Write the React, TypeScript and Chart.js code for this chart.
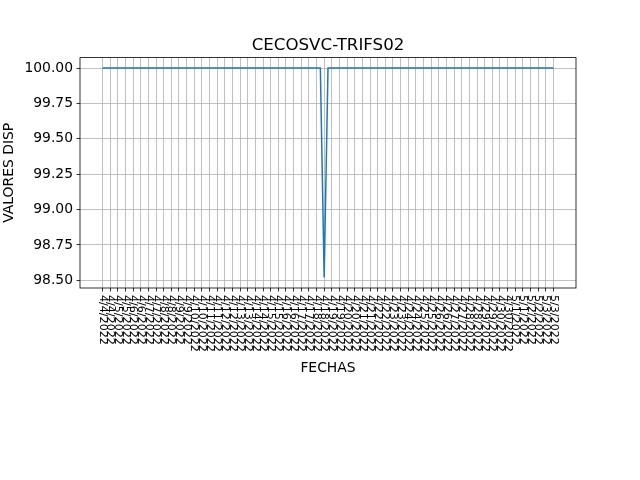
import React, { useEffect, useRef } from "react";
import { Chart, registerables } from "chart.js";

Chart.register(...registerables);

const chartTitle = "CECOSVC-TRIFS02";
const xTitle = "FECHAS";
const yTitle = "VALORES DISP";

const tickLabels: string[] = [
  "4/4/2022", "4/4/2022", "4/5/2022", "4/5/2022", "4/6/2022", "4/6/2022",
  "4/7/2022", "4/7/2022", "4/8/2022", "4/8/2022", "4/9/2022", "4/9/2022",
  "4/10/2022", "4/10/2022", "4/11/2022", "4/11/2022", "4/12/2022", "4/12/2022",
  "4/13/2022", "4/13/2022", "4/14/2022", "4/14/2022", "4/15/2022", "4/15/2022",
  "4/16/2022", "4/16/2022", "4/17/2022", "4/17/2022", "4/18/2022", "4/18/2022",
  "4/19/2022", "4/19/2022", "4/20/2022", "4/20/2022", "4/21/2022", "4/21/2022",
  "4/22/2022", "4/22/2022", "4/23/2022", "4/23/2022", "4/24/2022", "4/24/2022",
  "4/25/2022", "4/25/2022", "4/26/2022", "4/26/2022", "4/27/2022", "4/27/2022",
  "4/28/2022", "4/28/2022", "4/29/2022", "4/29/2022", "4/30/2022", "4/30/2022",
  "5/1/2022", "5/1/2022", "5/2/2022", "5/2/2022", "5/3/2022", "5/3/2022",
];

// samples taken twice per tick interval (half-tick spacing)
const dispValues: number[] = [
  100, 100, 100, 100, 100, 100, 100, 100, 100, 100,
  100, 100, 100, 100, 100, 100, 100, 100, 100, 100,
  100, 100, 100, 100, 100, 100, 100, 100, 100, 100,
  100, 100, 100, 100, 100, 100, 100, 100, 100, 100,
  100, 100, 100, 100, 100, 100, 100, 100, 100, 100,
  100, 100, 100, 100, 100, 100, 100, 100, 98.52, 100,
  100, 100, 100, 100, 100, 100, 100, 100, 100, 100,
  100, 100, 100, 100, 100, 100, 100, 100, 100, 100,
  100, 100, 100, 100, 100, 100, 100, 100, 100, 100,
  100, 100, 100, 100, 100, 100, 100, 100, 100, 100,
  100, 100, 100, 100, 100, 100, 100, 100, 100, 100,
  100, 100, 100, 100, 100, 100, 100, 100, 100,
];

const yTickValues: number[] = [98.5, 98.75, 99.0, 99.25, 99.5, 99.75, 100.0];

const FONT = "'DejaVu Sans', sans-serif";

export default function App() {
  const ref = useRef<HTMLCanvasElement | null>(null);

  useEffect(() => {
    const canvas = ref.current;
    if (!canvas) return;
    const nTicks = tickLabels.length;
    const xPad = (nTicks - 1) * 0.05;
    const yMin = Math.min(...dispValues);
    const yMax = Math.max(...dispValues);
    const yPad = (yMax - yMin) * 0.05;

    const decor = {
      id: "decor",
      afterDraw(chart: any) {
        const ctx = chart.ctx;
        const a = chart.chartArea;
        const xs = chart.scales.x;
        ctx.save();
        ctx.strokeStyle = "#000";
        ctx.lineWidth = 0.8;
        ctx.strokeRect(a.left, a.top, a.right - a.left, a.bottom - a.top);
        ctx.fillStyle = "#000";
        ctx.font = `11.1px ${FONT}`;
        ctx.textAlign = "left";
        ctx.textBaseline = "middle";
        tickLabels.forEach((lab, i) => {
          const px = xs.getPixelForValue(i);
          ctx.save();
          ctx.translate(px, a.bottom + 7);
          ctx.rotate(Math.PI / 2);
          ctx.fillText(lab, 0, 0);
          ctx.restore();
        });
        ctx.font = `16.67px ${FONT}`;
        ctx.textAlign = "center";
        ctx.textBaseline = "alphabetic";
        ctx.fillText(chartTitle, (a.left + a.right) / 2, a.top - 8);
        ctx.font = `13.9px ${FONT}`;
        ctx.textBaseline = "top";
        ctx.fillText(xTitle, (a.left + a.right) / 2, 361);
        ctx.save();
        ctx.translate(9, (a.top + a.bottom) / 2);
        ctx.rotate(-Math.PI / 2);
        ctx.textBaseline = "middle";
        ctx.fillText(yTitle, 0, 0);
        ctx.restore();
        ctx.restore();
      },
    };

    const chart = new Chart(canvas, {
      type: "line",
      data: {
        datasets: [
          {
            data: dispValues.map((v, i) => ({ x: i / 2, y: v })),
            borderColor: "#1f77b4",
            borderWidth: 1.5,
            pointRadius: 0,
            fill: false,
            tension: 0,
          },
        ],
      },
      options: {
        responsive: false,
        animation: false,
        layout: { padding: { left: 0, right: 64, top: 57.6, bottom: 0 } },
        plugins: { legend: { display: false }, title: { display: false }, tooltip: { enabled: false } },
        scales: {
          x: {
            type: "linear",
            min: -xPad,
            max: nTicks - 1 + xPad,
            afterBuildTicks: (s: any) => {
              s.ticks = tickLabels.map((_, i) => ({ value: i }));
            },
            afterFit: (s: any) => {
              s.height = 192;
            },
            ticks: { display: false },
            grid: {
              color: "#b0b0b0",
              lineWidth: 0.8,
              drawTicks: true,
              tickLength: 3.5,
              tickColor: "#000",
            },
            border: { display: false },
          },
          y: {
            type: "linear",
            min: yMin - yPad,
            max: yMax + yPad,
            afterBuildTicks: (s: any) => {
              s.ticks = yTickValues.map((v) => ({ value: v }));
            },
            afterFit: (s: any) => {
              s.width = 80;
            },
            ticks: {
              color: "#000",
              font: { family: FONT, size: 13.9 },
              padding: 3.5,
              callback: (v: any) => Number(v).toFixed(2),
            },
            grid: {
              color: "#b0b0b0",
              lineWidth: 0.8,
              drawTicks: true,
              tickLength: 3.5,
              tickColor: "#000",
            },
            border: { display: false },
          },
        },
      },
      plugins: [decor],
    });
    return () => chart.destroy();
  }, []);

  return (
    <div style={{ position: "fixed", left: 0, top: 0, width: 640, height: 480, background: "#fff" }}>
      <canvas ref={ref} width={640} height={480} />
    </div>
  );
}
